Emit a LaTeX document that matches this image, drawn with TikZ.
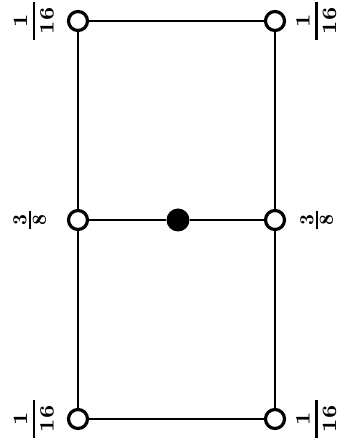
\documentclass[tikz,border=0pt]{standalone}
\newcommand{\bigd}[1]{\scalebox{2.3}[2.05]{\bfseries #1}}
\newcommand{\smd}[1]{\scalebox{1.9}[2.0]{\bfseries #1}}
\begin{document}
\begin{tikzpicture}[x=1pt,y=1pt,
  vtx/.style={circle,draw,line width=3.2pt,fill=white,minimum size=19pt,inner sep=0pt},
  fulldot/.style={circle,fill=black,minimum size=23pt,inner sep=0pt},
  edgeline/.style={line width=2.8pt},
  digit/.style={rotate=90,inner sep=0pt},
  fracbar/.style={line width=2.4pt}]
\useasboundingbox (0,0) rectangle (347,444);
% vertices
\node[vtx] (A) at (78,423) {};
\node[vtx] (B) at (275,423) {};
\node[vtx] (C) at (78,224) {};
\node[vtx] (D) at (275,224) {};
\node[vtx] (E) at (78,25) {};
\node[vtx] (F) at (275,25) {};
\node[fulldot] (M) at (178,224) {};
% edges
\draw[edgeline] (A) -- (B);
\draw[edgeline] (A) -- (C);
\draw[edgeline] (C) -- (E);
\draw[edgeline] (E) -- (F);
\draw[edgeline] (B) -- (D);
\draw[edgeline] (D) -- (F);
\draw[edgeline] (C) -- (M);
\draw[edgeline] (M) -- (D);
% labels 1/16 top-left
\node[digit] (tlnum) at (20.5,423) {\bigd{1}};
\node[digit] (tlden) at (47,423) {\bigd{16}};
\coordinate (tlb1) at (34,404); \coordinate (tlb2) at (34,442);
\draw[fracbar] (tlb1) -- (tlb2);
% top-right
\node[digit] (trnum) at (303,423) {\bigd{1}};
\node[digit] (trden) at (329.5,423) {\bigd{16}};
\coordinate (trb1) at (316.5,404); \coordinate (trb2) at (316.5,442);
\draw[fracbar] (trb1) -- (trb2);
% bottom-left
\node[digit] (blnum) at (20.5,25) {\bigd{1}};
\node[digit] (blden) at (47,25) {\bigd{16}};
\coordinate (blb1) at (34,6); \coordinate (blb2) at (34,44);
\draw[fracbar] (blb1) -- (blb2);
% bottom-right
\node[digit] (brnum) at (303,25) {\bigd{1}};
\node[digit] (brden) at (329.5,25) {\bigd{16}};
\coordinate (brb1) at (316.5,6); \coordinate (brb2) at (316.5,44);
\draw[fracbar] (brb1) -- (brb2);
% middle-left 3/8
\node[digit] (mlnum) at (20,224) {\smd{3}};
\node[digit] (mlden) at (39.5,224) {\smd{8}};
\coordinate (mlb1) at (29.7,215) ; \coordinate (mlb2) at (29.7,233);
\draw[fracbar] (mlb1) -- (mlb2);
% middle-right 3/8
\node[digit] (mrnum) at (307,224) {\smd{3}};
\node[digit] (mrden) at (326.5,224) {\smd{8}};
\coordinate (mrb1) at (316.7,215); \coordinate (mrb2) at (316.7,233);
\draw[fracbar] (mrb1) -- (mrb2);
\end{tikzpicture}
\end{document}
